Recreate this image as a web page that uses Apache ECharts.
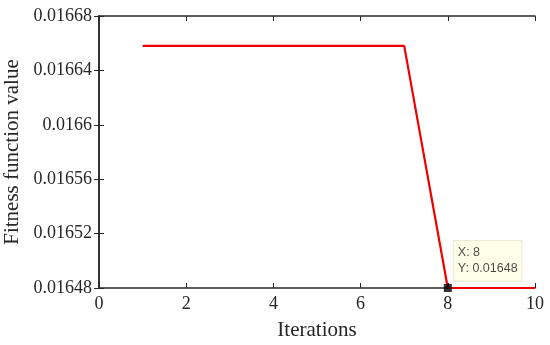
<!DOCTYPE html>
<html><head><meta charset="utf-8">
<script src="https://cdn.jsdelivr.net/npm/echarts@6/dist/echarts.min.js"></script>
<style>html,body{margin:0;padding:0;background:#fff}#c{width:550px;height:345px}</style>
</head><body><div id="c"></div>
<script>
var iterations = [1, 2, 3, 4, 5, 6, 7, 8, 9, 10];
var fitness = [0.016658, 0.016658, 0.016658, 0.016658, 0.016658, 0.016658, 0.016658, 0.01648, 0.01648, 0.01648];
var xTicks = [0, 2, 4, 6, 8, 10];
var yTicks = ['0.01648', '0.01652', '0.01656', '0.0166', '0.01664', '0.01668'];
var tipPoint = [8, 0.01648];

var chart = echarts.init(document.getElementById('c'));
var lineData = iterations.map(function (x, i) { return [x, fitness[i]]; });
var axisCol = '#262626';
var serif = '"Liberation Serif","Times New Roman",serif';
function fmtY(v) {
  return v.toFixed(5).replace(/0+$/, '');
}
chart.setOption({
  animation: false,
  backgroundColor: '#fff',
  grid: { left: 99, right: 15, top: 16, bottom: 57, outerBoundsMode: 'none', containLabel: false },
  xAxis: [{
    type: 'value', min: 0, max: 10, interval: 2,
    name: 'Iterations', nameLocation: 'middle', nameGap: 32,
    nameTextStyle: { fontFamily: serif, fontSize: 21, color: axisCol },
    axisLine: { lineStyle: { color: axisCol, width: 1.5 } },
    axisTick: { inside: true, length: 5, lineStyle: { color: axisCol } },
    axisLabel: { fontFamily: serif, fontSize: 18, color: axisCol, margin: 7 },
    splitLine: { show: false }
  }, {
    type: 'value', min: 0, max: 10, interval: 2, position: 'top',
    axisLine: { show: true, lineStyle: { color: axisCol, width: 1.5 } },
    axisTick: { inside: true, length: 5, lineStyle: { color: axisCol } },
    axisLabel: { show: false }, splitLine: { show: false }
  }],
  yAxis: [{
    type: 'value', min: 0.01648, max: 0.01668, interval: 0.00004,
    name: 'Fitness function value', nameLocation: 'middle', nameGap: 70,
    nameTextStyle: { fontFamily: serif, fontSize: 21, color: axisCol },
    axisLine: { show: true, lineStyle: { color: axisCol, width: 1.5 } },
    axisTick: { show: true, inside: true, length: 5, lineStyle: { color: axisCol } },
    axisLabel: { fontFamily: serif, fontSize: 18, color: axisCol, margin: 7,
      formatter: function (v) {
        var idx = Math.round((v - 0.01648) / 0.00004);
        return yTicks[idx] !== undefined ? yTicks[idx] : fmtY(v);
      } },
    splitLine: { show: false }
  }, {
    type: 'value', min: 0.01648, max: 0.01668, interval: 0.00004, position: 'right',
    axisLine: { show: true, lineStyle: { color: axisCol, width: 1.5 } },
    axisTick: { show: true, inside: true, length: 5, lineStyle: { color: axisCol } },
    axisLabel: { show: false }, splitLine: { show: false }
  }],
  series: [{
    type: 'line', data: lineData, showSymbol: false, symbol: 'none',
    lineStyle: { color: '#f00000', width: 2.2 }, z: 3
  }, {
    type: 'scatter', data: [tipPoint], symbol: 'rect', symbolSize: 8,
    itemStyle: { color: '#000' }, z: 5,
    label: {
      show: true, position: [10, -43],
      formatter: function (p) { return 'X: ' + p.value[0] + '\nY: ' + p.value[1]; },
      fontFamily: '"Liberation Sans",Arial,sans-serif', fontSize: 12.5, color: '#1a1a1a',
      lineHeight: 16, backgroundColor: '#ffffe3', borderColor: '#e6e6d0', borderWidth: 1,
      padding: [4, 4, 4, 4]
    }
  }]
});
</script></body></html>
